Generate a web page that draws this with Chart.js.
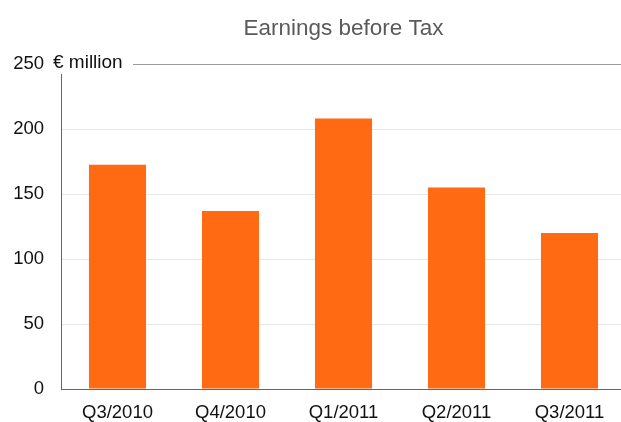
<!DOCTYPE html>
<html>
<head>
<meta charset="utf-8">
<script src="https://cdn.jsdelivr.net/npm/chart.js@4/dist/chart.umd.min.js"></script>
<style>
  html, body { margin: 0; padding: 0; background: #fff; overflow: hidden; }
  #wrap { width: 626px; height: 422px; }
</style>
</head>
<body>
<div id="wrap"><canvas id="chart"></canvas></div>
<script>
// Quarterly earnings before tax, € million
const quarters = ['Q3/2010', 'Q4/2010', 'Q1/2011', 'Q2/2011', 'Q3/2011'];
const earnings = [172.5, 137, 208, 155, 120];
const yTicks = [0, 50, 100, 150, 200, 250];

const FONT = 'Liberation Sans, Arial, sans-serif';

// Title over the plot area and the unit label at the top of the y axis
const decorations = {
  id: 'decorations',
  afterDraw(chart) {
    const { ctx, chartArea } = chart;
    ctx.save();
    ctx.fillStyle = '#5a5a5a';
    ctx.font = `22.5px ${FONT}`;
    ctx.textAlign = 'center';
    ctx.textBaseline = 'middle';
    ctx.fillText('Earnings before Tax', (chartArea.left + chartArea.right) / 2, 29);

    const top = chart.scales.y.getPixelForValue(250);
    ctx.fillStyle = '#fff';
    ctx.fillRect(chartArea.left - 8, top - 10, 80, 20);
    ctx.fillStyle = '#111';
    ctx.font = `19px ${FONT}`;
    ctx.textAlign = 'left';
    ctx.fillText('€ million', chartArea.left - 8, top - 1);
    ctx.restore();
  },
};

new Chart(document.getElementById('chart'), {
  type: 'bar',
  data: {
    labels: quarters,
    datasets: [{
      data: earnings,
      backgroundColor: '#ff6a12',
      barPercentage: 0.505,
      categoryPercentage: 1,
    }],
  },
  options: {
    responsive: true,
    maintainAspectRatio: false,
    animation: false,
    layout: { padding: { top: 64, right: 0, bottom: 0, left: 0 } },
    plugins: {
      legend: { display: false },
      title: { display: false },
      tooltip: { enabled: false },
    },
    scales: {
      x: {
        grid: { display: false, drawTicks: false },
        border: { color: '#666', width: 1 },
        ticks: { color: '#111', font: { family: FONT, size: 18.5 }, padding: 13 },
        afterFit: (scale) => { scale.height = 33; },
      },
      y: {
        min: 0,
        max: 250,
        afterBuildTicks: (scale) => { scale.ticks = yTicks.map((v) => ({ value: v })); },
        grid: {
          drawTicks: false,
          color: (c) => (c.tick && c.tick.value === 250 ? '#9a9a9a' : '#e8e8e8'),
        },
        border: { color: '#666', width: 1 },
        ticks: { color: '#111', font: { family: FONT, size: 18.5 }, padding: 17 },
        afterFit: (scale) => { scale.width = 61; },
      },
    },
  },
  plugins: [decorations],
});
</script>
</body>
</html>
